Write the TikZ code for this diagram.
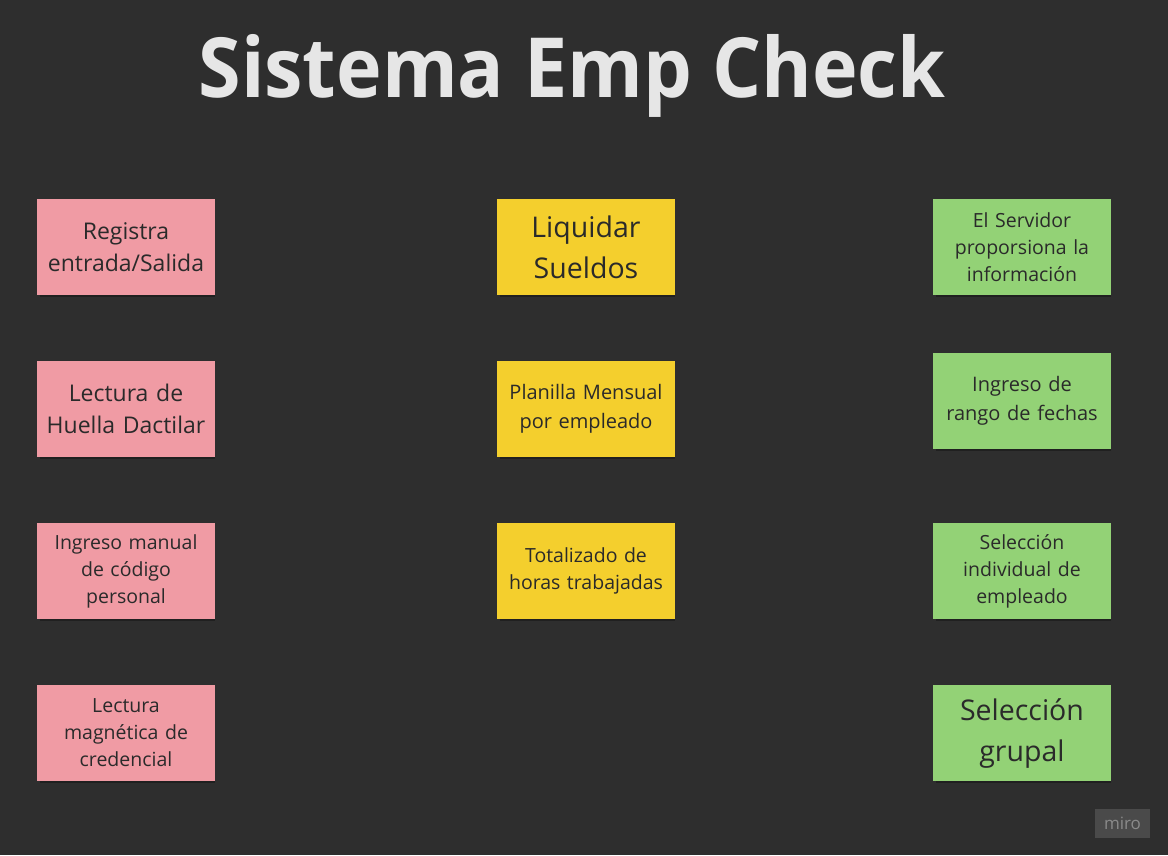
\documentclass[tikz,border=0pt]{standalone}
\usepackage{fontspec}
\setmainfont{Open Sans}
\usetikzlibrary{positioning}
\definecolor{boardbg}{HTML}{2E2E2E}
\definecolor{notepink}{HTML}{F09BA4}
\definecolor{noteyellow}{HTML}{F4CF2D}
\definecolor{notegreen}{HTML}{93D276}
\definecolor{notetext}{HTML}{2A2A2A}
\definecolor{titletext}{HTML}{E6E6E6}
\definecolor{logobg}{HTML}{4A4A4A}
\definecolor{logotext}{HTML}{8A8A8A}
\tikzset{
  note/.style={minimum width=178pt, minimum height=96pt, inner sep=0pt, align=center, text width=172pt, text=notetext},
  pinknote/.style={note, fill=notepink},
  yellownote/.style={note, fill=noteyellow},
  greennote/.style={note, fill=notegreen},
  noteshadow/.style={fill=black, opacity=0.3},
}
\newcommand{\fsbig}{\fontsize{28.5}{41}\selectfont}
\newcommand{\fsmid}{\fontsize{23}{32}\selectfont}
\newcommand{\fsnorm}{\fontsize{20}{28.5}\selectfont}
\newcommand{\fssmall}{\fontsize{19.5}{27}\selectfont}

\begin{document}
\begin{tikzpicture}[x=1pt, y=-1pt]
			%%%%% BOARD %%%%%
			\fill[boardbg] (0, 0) rectangle (1168, 855);
			\useasboundingbox (0, 0) rectangle (1168, 855);
			
			\node[anchor=base, text=titletext, xscale=0.93, transform shape, font=\fontsize{83}{90}\selectfont\bfseries] (title) at (572, 97) {Sistema Emp Check};
			
			%%%%% SHADOWS %%%%%
			\foreach \cx/\cy in {126/247, 126/409, 126/571, 126/733, 586/247, 586/409, 586/571, 1022/247, 1022/401, 1022/571, 1022/733}
				\fill[noteshadow] (\cx-86, \cy-44) rectangle (\cx+89, \cy+50);
			
			%%%%% LEFT %%%%%
			\node[pinknote, font=\fsmid] (registra) at (126, 247) {Registra\\entrada/Salida};
			\node[pinknote, font=\fsmid] (huella) at (126, 409) {Lectura de\\Huella Dactilar};
			\node[pinknote, font=\fssmall] (manual) at (126, 571) {Ingreso manual\\de código\\personal};
			\node[pinknote, font=\fssmall] (magnetica) at (126, 733) {Lectura\\magnética de\\credencial};
			
			%%%%% MIDDLE %%%%%
			\node[yellownote, font=\fsbig] (liquidar) at (586, 247) {Liquidar\\Sueldos};
			\node[yellownote, font=\fsnorm] (planilla) at (586, 409) {Planilla Mensual\\por empleado};
			\node[yellownote, font=\fssmall] (totalizado) at (586, 571) {Totalizado de\\horas trabajadas};
			
			%%%%% RIGHT %%%%%
			\node[greennote, font=\fssmall] (servidor) at (1022, 247) {El Servidor\\proporsiona la\\información};
			\node[greennote, font=\fsnorm] (rango) at (1022, 401) {Ingreso de\\rango de fechas};
			\node[greennote, font=\fssmall] (individual) at (1022, 571) {Selección\\individual de\\empleado};
			\node[greennote, font=\fsbig] (grupal) at (1022, 733) {Selección\\grupal};
			
			%%%%% LOGO %%%%%
			\node[fill=logobg, text=logotext, minimum width=55pt, minimum height=29pt, inner sep=0pt, font=\fontsize{17}{17}\selectfont] (miro) at (1122.5, 823) {miro};
\end{tikzpicture}
\end{document}
